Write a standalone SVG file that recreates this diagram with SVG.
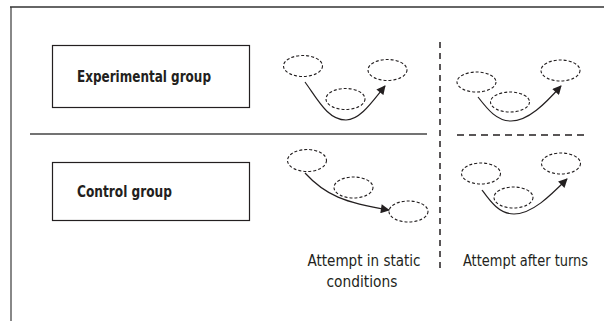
<svg xmlns="http://www.w3.org/2000/svg" width="604" height="321" viewBox="0 0 604 321">
<style>
.box{fill:#fff;stroke:#231f20;stroke-width:1.2}
.ell{fill:none;stroke:#231f20;stroke-width:1.1;stroke-dasharray:3,2}
.path{fill:none;stroke:#231f20;stroke-width:1.2}
.lbl{font-family:"Liberation Sans Narrow","DejaVu Sans Condensed","Liberation Sans",sans-serif;fill:#231f20}
.b{font-weight:bold;font-size:16.5px}
.n{font-size:15.5px}
</style>
<defs>
<marker id="ah" viewBox="0 0 10 10" refX="9" refY="5" markerWidth="10" markerHeight="9" markerUnits="userSpaceOnUse" orient="auto">
<path d="M0,0 L10,5 L0,10 z" fill="#231f20"/>
</marker>
</defs>
<rect width="604" height="321" fill="#fff"/>
<g id="frame">
<line x1="11" y1="7" x2="11" y2="321" stroke="#888" stroke-width="2"/>
<line x1="10" y1="7" x2="604" y2="7" stroke="#333" stroke-width="1.5"/>
<line x1="30" y1="134" x2="427" y2="134" stroke="#444" stroke-width="1.5"/>
<line x1="440" y1="42" x2="440" y2="268" stroke="#231f20" stroke-width="1.5" stroke-dasharray="6,5"/>
<line x1="457" y1="135" x2="585" y2="135" stroke="#231f20" stroke-width="1.5" stroke-dasharray="7,5"/>
</g>
<g id="experimental-group">
<rect class="box" x="52.5" y="45.5" width="197" height="62"/>
<text class="lbl b" x="77" y="82" textLength="134" lengthAdjust="spacingAndGlyphs">Experimental group</text>
</g>
<g id="control-group">
<rect class="box" x="52.5" y="162.5" width="197" height="58"/>
<text class="lbl b" x="77" y="197" textLength="95" lengthAdjust="spacingAndGlyphs">Control group</text>
</g>
<g id="exp-static">
<ellipse class="ell" cx="303" cy="66" rx="19.5" ry="10.5"/>
<ellipse class="ell" cx="345.5" cy="99" rx="19.5" ry="10.5"/>
<ellipse class="ell" cx="387.5" cy="70" rx="19.5" ry="10.5"/>
</g>
<g id="exp-turns">
<ellipse class="ell" cx="476.5" cy="82" rx="19.5" ry="10"/>
<ellipse class="ell" cx="510" cy="102" rx="19.5" ry="10"/>
<ellipse class="ell" cx="560.5" cy="70.5" rx="19.5" ry="10.5"/>
</g>
<g id="ctrl-static">
<ellipse class="ell" cx="307" cy="160.5" rx="19.5" ry="11"/>
<ellipse class="ell" cx="353.5" cy="187.5" rx="19.5" ry="10.5"/>
<ellipse class="ell" cx="408.5" cy="211.5" rx="19.5" ry="10.5"/>
</g>
<g id="ctrl-turns">
<ellipse class="ell" cx="481" cy="173.5" rx="19.5" ry="10.5"/>
<ellipse class="ell" cx="513.5" cy="197.5" rx="19.5" ry="10.5"/>
<ellipse class="ell" cx="561" cy="163.5" rx="19.5" ry="10.5"/>
</g>
<g id="connectors">
<path class="path" d="M305,82 C318,100 328,120 346,120 C360,120 372,102 385,86" marker-end="url(#ah)"/>
<path class="path" d="M478,97 C488,110 497,121 511,121 C528,121 545,104 561,86" marker-end="url(#ah)"/>
<path class="path" d="M305,173 C325,195 345,203 389,210" marker-end="url(#ah)"/>
<path class="path" d="M482,190 C490,201 499,214 514,214 C532,214 550,196 567,179" marker-end="url(#ah)"/>
</g>
<g id="labels">
<text class="lbl n" x="364" y="266" text-anchor="middle" textLength="113" lengthAdjust="spacingAndGlyphs">Attempt in static</text>
<text class="lbl n" x="362" y="287" text-anchor="middle" textLength="71" lengthAdjust="spacingAndGlyphs">conditions</text>
<text class="lbl n" x="525.5" y="266" text-anchor="middle" textLength="125" lengthAdjust="spacingAndGlyphs">Attempt after turns</text>
</g>
</svg>
